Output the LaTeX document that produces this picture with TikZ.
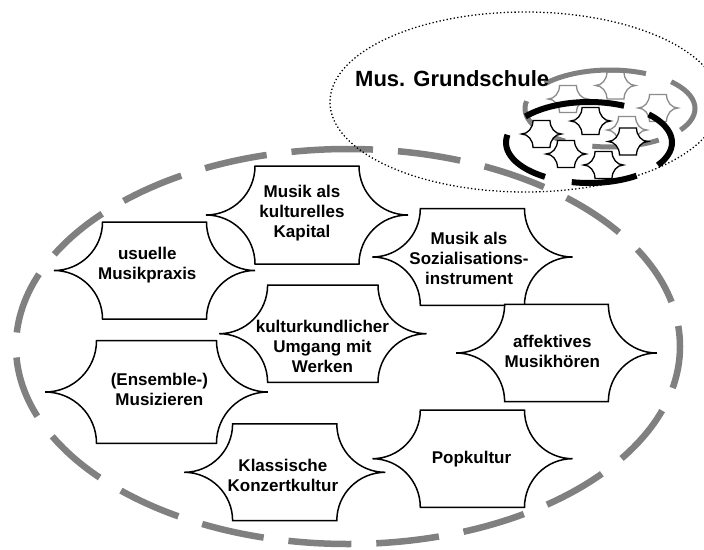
\documentclass[tikz,border=0pt]{standalone}
\usepackage{fontspec}
\setmainfont{Liberation Sans}
\definecolor{grau}{RGB}{128,128,128}
\definecolor{grauhell}{RGB}{140,140,140}
\tikzset{
  konz/.style={draw=black, line width=1.5pt, fill=white},
  minikonz/.style={draw=black, line width=1.3pt, fill=white},
  minigrau/.style={draw=grauhell, line width=1.3pt, fill=white},
  shapebox/.style={inner sep=0pt, outer sep=0pt},
  ktext/.style={font=\bfseries\fontsize{17}{20}\selectfont, align=center, inner sep=0pt},
  titel/.style={font=\bfseries\fontsize{22}{26}\selectfont, inner sep=0pt, anchor=base west},
  bigdash/.style={draw=grau, line width=6.5pt, dash pattern=on 63pt off 25pt, dash phase=38pt},
  graydash/.style={draw=grau, line width=5pt},
  blackdash/.style={draw=black, line width=6pt},
  dotring/.style={draw=black, line width=1.3pt, dash pattern=on 1.3pt off 2.3pt},
}
\newcommand\konzept[7][konz]{%
  \node[shapebox, minimum width=#5pt, minimum height=#6pt] (#2) at (#3,#4) {};
  \draw[#1] (#2.north west)
    arc[start angle=0,end angle=90,x radius=#7,y radius=#6/2]
    arc[start angle=-90,end angle=0,x radius=#7,y radius=#6/2]
    -- (#2.south east)
    arc[start angle=180,end angle=270,x radius=#7,y radius=#6/2]
    arc[start angle=90,end angle=180,x radius=#7,y radius=#6/2]
    -- cycle;}
\begin{document}
\begin{tikzpicture}[x=1pt,y=-1pt]
\path[use as bounding box] (0,0) rectangle (704,549);
\clip (0,0) rectangle (704,549);

% large dashed ellipse
\draw[bigdash] (348,346.5) ++(-90:332 and 197.5)
  arc[start angle=-90,end angle=270,x radius=332,y radius=197.5];

% dotted ellipse
\draw[dotring] (525,102) ellipse[x radius=195,y radius=90];

% main concepts
\konzept{kapital}{307}{215}{104}{98}{49}
\konzept{usuelle}{154.5}{270.5}{104}{97}{48.5}
\konzept{sozial}{472.4}{257}{104.2}{96.6}{48}
\konzept{kultur}{322.8}{333.7}{110.4}{97.3}{48.5}
\konzept{affekt}{556.5}{353}{103.7}{97.4}{48.5}
\konzept{ensemble}{156.5}{392}{120}{102.6}{51.4}
\konzept{klassik}{284.7}{472.3}{104.2}{96.7}{48.5}
\konzept{pop}{472.4}{458.7}{104.2}{97.3}{48}

\node[ktext] (kapitalT) at (302,212.7) {Musik als\\kulturelles\\Kapital};
\node[ktext] (usuelleT) at (147.3,265.5) {usuelle\\Musikpraxis};
\node[ktext] (sozialT) at (469,258) {Musik als\\Sozialisations-\\instrument};
\node[ktext] (kulturT) at (322.4,346.7) {kulturkundlicher\\Umgang mit\\Werken};
\node[ktext] (affektT) at (552.3,351.2) {affektives\\Musikh\"oren};
\node[ktext] (ensembleT) at (159.4,389.7) {(Ensemble-)\\Musizieren};
\node[ktext] (klassikT) at (282.9,475) {Klassische\\Konzertkultur};
\node[ktext] (popT) at (471.5,459.3) {Popkultur};

% small cluster: grey
\konzept[minigrau]{ga}{568}{99}{17}{27}{11.5}
\konzept[minigrau]{gb}{615.5}{85.5}{17}{27}{11.5}
\konzept[minigrau]{gc}{658}{108}{17}{27}{11.5}
\konzept[minigrau]{gd}{627}{130}{17}{27}{11.5}
\foreach \a/\b in {-44/34,55/102,122/191,220/295}{
  \draw[graydash] (610,108.5) ++(\a:85 and 38.5)
    arc[start angle=\a,end angle=\b,x radius=85,y radius=38.5];
}
% small cluster: black
\konzept[minikonz]{ka}{590.5}{121}{17}{27}{11.5}
\konzept[minikonz]{kb}{541.5}{134}{17}{27}{11.5}
\konzept[minikonz]{kc}{628}{141.5}{17}{27}{11.5}
\konzept[minikonz]{kd}{566}{154}{17}{27}{11.5}
\konzept[minikonz]{ke}{603.5}{165}{17}{27}{11.5}
\foreach \a/\b in {-44/34,55/102,122/191,220/295}{
  \draw[blackdash] (589,142.5) ++(\a:83 and 40.5)
    arc[start angle=\a,end angle=\b,x radius=83,y radius=40.5];
}

\node[titel] (grundschule) at (355,86) {Mus. Grundschule};
\end{tikzpicture}
\end{document}
